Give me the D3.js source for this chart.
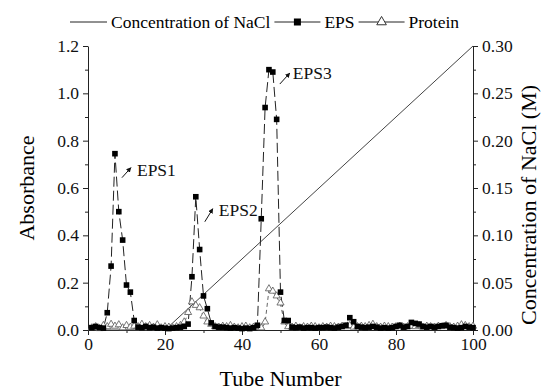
<!DOCTYPE html>
<html>
<head>
<meta charset="utf-8">
<script src="https://cdn.jsdelivr.net/npm/d3@7"></script>
<style>
  body { margin: 0; background: #fff; }
  svg, svg text { font-family: "Liberation Serif", "Times New Roman", serif; }
  svg { display: block; }
  .tick text { font-size: 17.5px; fill: #111; font-family: "Liberation Serif", serif; }
  .domain, .tick line { stroke: #222; }
</style>
</head>
<body>
<svg id="chart" width="541" height="392"></svg>
<script>
// tube numbers 1..100
const tubes = d3.range(1, 101);

// absorbance of EPS per tube
const eps = [
  0.010, 0.015, 0.010, 0.008, 0.073, 0.270, 0.745, 0.500, 0.380, 0.190,
  0.160, 0.040, 0.012, 0.010, 0.015, 0.010, 0.012, 0.008, 0.010, 0.008,
  0.006, 0.008, 0.010, 0.012, 0.015, 0.025, 0.225, 0.563, 0.340, 0.144,
  0.090, 0.030, 0.015, 0.012, 0.012, 0.010, 0.008, 0.010, 0.008, 0.006,
  0.008, 0.006, 0.010, 0.020, 0.470, 0.940, 1.100, 1.090, 0.890, 0.160,
  0.040, 0.040, 0.012, 0.010, 0.012, 0.008, 0.010, 0.010, 0.008, 0.010,
  0.010, 0.012, 0.010, 0.008, 0.012, 0.015, 0.020, 0.052, 0.035, 0.015,
  0.012, 0.010, 0.012, 0.015, 0.012, 0.008, 0.010, 0.008, 0.010, 0.015,
  0.020, 0.012, 0.015, 0.032, 0.028, 0.025, 0.015, 0.012, 0.015, 0.012,
  0.015, 0.018, 0.020, 0.012, 0.010, 0.008, 0.010, 0.015, 0.012, 0.010
];

// absorbance of protein per tube
const protein = [
  0.005, 0.010, 0.002, 0.015, 0.010, 0.020, 0.012, 0.018, 0.005, 0.015,
  0.008, 0.012, 0.010, 0.020, 0.010, 0.015, 0.008, 0.018, 0.005, 0.010,
  0.008, 0.005, 0.010, 0.015, 0.030, 0.070, 0.115, 0.100, 0.090, 0.055,
  0.030, 0.020, 0.010, 0.008, 0.012, 0.010, 0.015, 0.008, 0.005, 0.010,
  0.012, 0.005, 0.008, 0.010, 0.005, 0.030, 0.170, 0.160, 0.140, 0.110,
  0.030, 0.010, 0.008, 0.012, 0.005, 0.010, 0.008, 0.012, 0.010, 0.005,
  0.010, 0.008, 0.012, 0.010, 0.008, 0.012, 0.010, 0.015, 0.008, 0.010,
  0.012, 0.010, 0.015, 0.020, 0.010, 0.008, 0.012, 0.010, 0.008, 0.010,
  0.012, 0.008, 0.010, 0.012, 0.010, 0.015, 0.008, 0.012, 0.010, 0.008,
  0.012, 0.010, 0.015, 0.010, 0.008, 0.012, 0.018, 0.015, 0.010, 0.012
];

// NaCl gradient (right axis)
const naclTube = [0, 20, 100];
const naclConc = [0, 0, 0.30];

const xTicks = [0, 20, 40, 60, 80, 100];
const yLeftTicks = [0, 0.2, 0.4, 0.6, 0.8, 1.0, 1.2];
const yRightTicks = [0, 0.05, 0.10, 0.15, 0.20, 0.25, 0.30];

const peakNames = ['EPS1', 'EPS2', 'EPS3'];
const peakTubes = [7, 28, 48];

const legendItems = ['Concentration of NaCl', 'EPS', 'Protein'];

const svg = d3.select('#chart');
const margin = {left: 88, right: 68, top: 46, bottom: 62};
const width = 541, height = 392;

const x = d3.scaleLinear().domain([0, 100]).range([margin.left, width - margin.right]);
const yL = d3.scaleLinear().domain([0, 1.2]).range([height - margin.bottom, margin.top]);
const yR = d3.scaleLinear().domain([0, 0.30]).range([height - margin.bottom, margin.top]);

// minor ticks first so the major ones draw on top
svg.append('g')
    .attr('transform', `translate(0,${yL(0)})`)
    .call(d3.axisBottom(x).tickValues(d3.range(10, 100, 20)).tickSize(3).tickFormat(''))
    .call(g => g.select('.domain').remove());
svg.append('g')
    .attr('transform', `translate(${x(0)},0)`)
    .call(d3.axisLeft(yL).tickValues(d3.range(0.1, 1.2, 0.2)).tickSize(3).tickFormat(''))
    .call(g => g.select('.domain').remove());
svg.append('g')
    .attr('transform', `translate(${x(100)},0)`)
    .call(d3.axisRight(yR).tickValues(d3.range(0.025, 0.3, 0.05)).tickSize(3).tickFormat(''))
    .call(g => g.select('.domain').remove());

svg.append('g')
    .attr('transform', `translate(0,${yL(0)})`)
    .call(d3.axisBottom(x).tickValues(xTicks).tickSize(5).tickSizeOuter(0).tickPadding(3));
svg.append('g')
    .attr('transform', `translate(${x(0)},0)`)
    .call(d3.axisLeft(yL).tickValues(yLeftTicks).tickSize(5).tickSizeOuter(0).tickPadding(4)
        .tickFormat(d3.format('.1f')));
svg.append('g')
    .attr('transform', `translate(${x(100)},0)`)
    .call(d3.axisRight(yR).tickValues(yRightTicks).tickSize(5).tickSizeOuter(0).tickPadding(4)
        .tickFormat(d3.format('.2f')));

// NaCl line
const naclLine = d3.line().x((d, i) => x(naclTube[i])).y(d => yR(d));
svg.append('path')
    .attr('d', naclLine(naclConc))
    .attr('fill', 'none')
    .attr('stroke', '#444')
    .attr('stroke-width', 1);

// EPS and protein lines
const lineOf = arr => d3.line().x((d, i) => x(tubes[i])).y(d => yL(d))(arr);

svg.append('path')
    .attr('d', lineOf(protein))
    .attr('fill', 'none')
    .attr('stroke', '#555')
    .attr('stroke-width', 0.9)
    .attr('stroke-dasharray', '4,3');

svg.append('path')
    .attr('d', lineOf(eps))
    .attr('fill', 'none')
    .attr('stroke', '#222')
    .attr('stroke-width', 1)
    .attr('stroke-dasharray', '10,4');

const tri = d3.symbol().type(d3.symbolTriangle).size(22);
svg.append('g').selectAll('path')
    .data(protein)
    .join('path')
    .attr('d', tri)
    .attr('transform', (d, i) => `translate(${x(tubes[i])},${yL(d) - 1})`)
    .attr('fill', '#fff')
    .attr('stroke', '#555')
    .attr('stroke-width', 0.8);

svg.append('g').selectAll('rect')
    .data(eps)
    .join('rect')
    .attr('x', (d, i) => x(tubes[i]) - 2.8)
    .attr('y', d => yL(d) - 2.8)
    .attr('width', 5.6)
    .attr('height', 5.6)
    .attr('fill', '#000');

// peak annotations with small arrows
svg.append('defs').append('marker')
    .attr('id', 'arrow')
    .attr('viewBox', '0 0 10 10')
    .attr('refX', 9).attr('refY', 5)
    .attr('markerWidth', 5).attr('markerHeight', 5)
    .attr('orient', 'auto')
  .append('path')
    .attr('d', 'M0,0L10,5L0,10z')
    .attr('fill', '#111');

// pixel offsets from the peak top: arrow start, arrow end, text
const labelOffset = [
  [7, 24, 16, 14, 22, 22],
  [9, 25, 17, 12, 23, 19],
  [7, 12, 17, 1, 20, 7]
];
peakNames.forEach((name, i) => {
    const t = peakTubes[i];
    const px = x(t), py = yL(eps[t - 1]);
    const o = labelOffset[i];
    svg.append('line')
        .attr('x1', px + o[0]).attr('y1', py + o[1])
        .attr('x2', px + o[2]).attr('y2', py + o[3])
        .attr('stroke', '#111').attr('stroke-width', 1)
        .attr('marker-end', 'url(#arrow)');
    svg.append('text')
        .attr('x', px + o[4]).attr('y', py + o[5])
        .attr('font-size', 17.5)
        .attr('fill', '#111')
        .text(name);
});

// axis titles
svg.append('text')
    .attr('transform', `translate(34,${(yL(0) + yL(1.2)) / 2}) rotate(-90)`)
    .attr('text-anchor', 'middle')
    .attr('font-size', 22)
    .text('Absorbance');
svg.append('text')
    .attr('transform', `translate(536,${(yL(0) + yL(1.2)) / 2 + 17}) rotate(-90)`)
    .attr('text-anchor', 'middle')
    .attr('font-size', 22)
    .text('Concentration of NaCl (M)');
svg.append('text')
    .attr('x', (x(0) + x(100)) / 2)
    .attr('y', 386)
    .attr('text-anchor', 'middle')
    .attr('font-size', 22)
    .text('Tube Number');

// legend
const legend = svg.append('g').attr('font-size', 17.5);
const ly = 22;
let cx = 70;
legendItems.forEach((name, i) => {
    const len = i === 0 ? 37 : 46;
    legend.append('line')
        .attr('x1', cx).attr('x2', cx + len)
        .attr('y1', ly).attr('y2', ly)
        .attr('stroke', '#222').attr('stroke-width', 1);
    if (i === 1) {
        legend.append('rect').attr('x', cx + len / 2 - 3.5).attr('y', ly - 3.5)
            .attr('width', 7).attr('height', 7).attr('fill', '#000');
    } else if (i === 2) {
        legend.append('path').attr('d', d3.symbol().type(d3.symbolTriangle).size(40))
            .attr('transform', `translate(${cx + len / 2},${ly})`)
            .attr('fill', '#fff').attr('stroke', '#333');
    }
    cx += len + 4;
    const t = legend.append('text')
        .attr('x', cx).attr('y', ly + 6)
        .text(name);
    cx += t.node().getComputedTextLength() + 4;
});
</script>
</body>
</html>
